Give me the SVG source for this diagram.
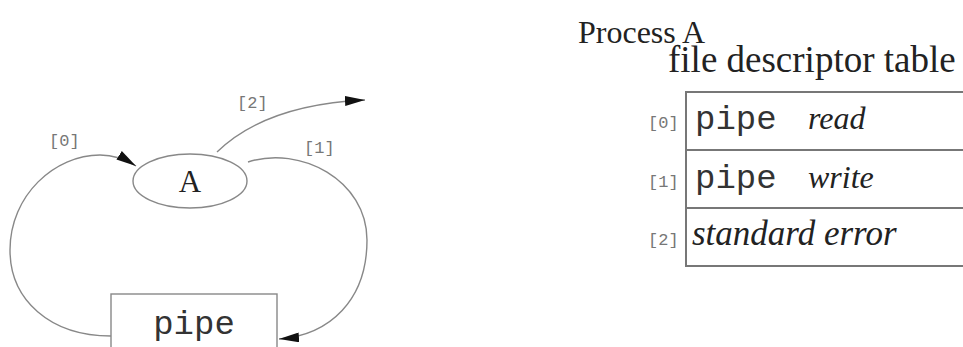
<svg xmlns="http://www.w3.org/2000/svg" width="963" height="347" viewBox="0 0 963 347">
<defs>
<style>
.edge{fill:none;stroke:#888;stroke-width:1.4}
.lbl{font-family:"Liberation Mono",monospace;font-size:17px;fill:#777}
.serif{font-family:"Liberation Serif","Times New Roman",serif;fill:#222}
.mono{font-family:"Liberation Mono","Courier New",monospace;fill:#333;font-size:34px}
.it{font-style:italic}
.box{fill:#fff;stroke:#888;stroke-width:1.4}
.tbl{fill:none;stroke:#777;stroke-width:2}
</style>
<marker id="ah" viewBox="0 0 20 10" refX="20" refY="5" markerWidth="20" markerHeight="10" markerUnits="userSpaceOnUse" orient="auto">
<path d="M0,0 L20,5 L0,10 z" fill="#111"/>
</marker>
</defs>
<rect width="963" height="347" fill="#fff"/>
<g id="connectors">
<path class="edge" d="M111,336 C50,336 10,300 10,250 C10,195 55,155 100,155 C115,155 125,159 136,166" marker-end="url(#ah)"/>
<path class="edge" d="M248,162 C300,145 367,180 367,240 C367,300 330,335 279,339" marker-end="url(#ah)"/>
<path class="edge" d="M217,152 C250,120 300,103 365,100" marker-end="url(#ah)"/>
<text class="lbl" x="49" y="146">[0]</text>
<text class="lbl" x="304" y="153">[1]</text>
<text class="lbl" x="237" y="108">[2]</text>
</g>
<g id="A">
<ellipse cx="190" cy="181" rx="57" ry="27" fill="#fff" stroke="#888" stroke-width="1.4"/>
<text class="serif" x="190" y="192" font-size="31" text-anchor="middle">A</text>
</g>
<g id="pipe">
<rect class="box" x="111" y="294" width="166" height="70"/>
<text class="mono" x="194" y="334" text-anchor="middle">pipe</text>
</g>
<g id="table">
<text class="serif" x="578" y="43" font-size="32">Process A</text>
<text class="serif" x="668" y="72" font-size="37">file descriptor table</text>
<path class="tbl" d="M970,92 H686 V266 H970 M686,150 H970 M686,208 H970"/>
<text class="lbl" x="648" y="128">[0]</text>
<text class="mono" x="695" y="129">pipe</text>
<text class="serif it" x="808" y="129" font-size="32">read</text>
<text class="lbl" x="648" y="187">[1]</text>
<text class="mono" x="695" y="188">pipe</text>
<text class="serif it" x="808" y="188" font-size="32">write</text>
<text class="lbl" x="648" y="245">[2]</text>
<text class="serif it" x="692" y="245" font-size="35">standard error</text>
</g>
</svg>
